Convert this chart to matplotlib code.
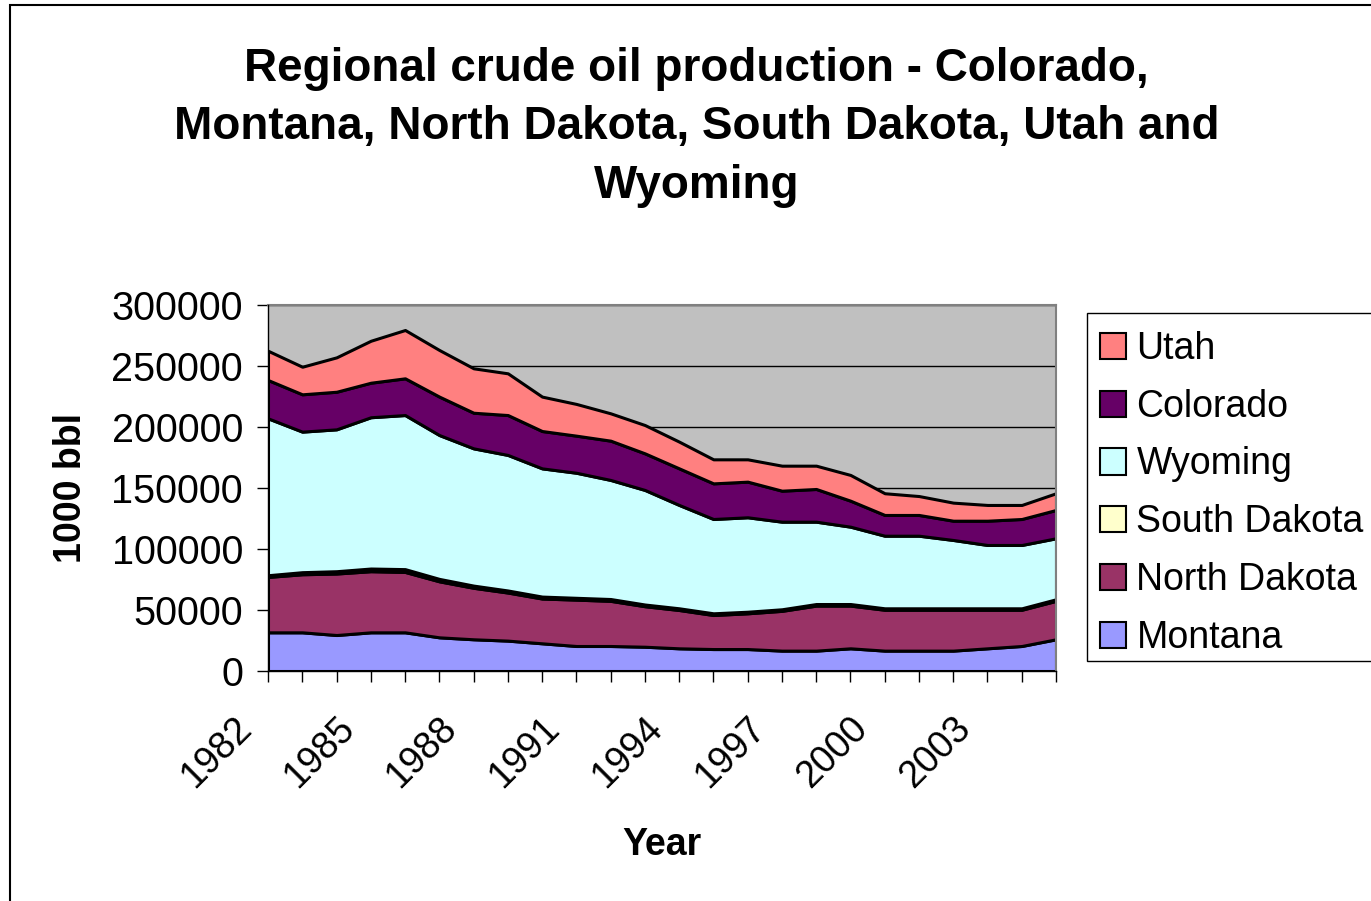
import matplotlib
matplotlib.use("Agg")
import matplotlib.pyplot as plt
from matplotlib.patches import Rectangle, Patch
from matplotlib.transforms import ScaledTranslation

plt.rcParams["font.family"] = ["Liberation Sans", "DejaVu Sans"]

years = list(range(1982, 2006))

# thousand barrels per year
montana = [31700, 31700, 29500, 31700, 31700, 27600, 26000, 24900, 22700, 20500, 20500, 19900,
           18600, 18000, 18000, 16700, 16700, 18600, 16700, 16700, 16700, 18600, 20500, 26000]
north_dakota = [45400, 47600, 50400, 50100, 49500, 45900, 42200, 39400, 36700, 38000, 37000, 33200,
                31400, 27900, 29300, 32600, 36900, 35000, 33500, 33500, 33500, 31600, 29700, 31500]
south_dakota = [1400, 1700, 1900, 2200, 2300, 2000, 1800, 1700, 1600, 1500, 1500, 1400,
                1400, 1400, 1300, 1300, 1300, 1300, 1200, 1200, 1200, 1200, 1200, 1300]
wyoming = [128600, 115200, 116300, 124000, 126300, 117900, 112500, 111100, 105100, 102500, 97600, 93900,
           84700, 77300, 77400, 71800, 67500, 63400, 59500, 59500, 56000, 51900, 51900, 50000]
colorado = [31400, 30600, 30800, 28300, 30100, 31500, 29200, 32700, 30600, 30400, 32200, 30000,
            30000, 29200, 29200, 25400, 26800, 21300, 17000, 17000, 15800, 19900, 21300, 23200]
utah = [24000, 22600, 28200, 34400, 39600, 38200, 36400, 34200, 28200, 26000, 22400, 23200,
        21900, 19700, 18300, 20500, 19100, 21100, 17800, 15500, 14800, 12900, 11500, 13700]

series_names = ["Montana", "North Dakota", "South Dakota", "Wyoming", "Colorado", "Utah"]
series_colors = ["#9999FF", "#993366", "#FFFFCC", "#CCFFFF", "#660066", "#FF8080"]

W, H = 1371, 901
fig = plt.figure(figsize=(W / 100, H / 100), dpi=100)
ax = fig.add_axes([268 / W, 1 - 671 / H, (1056 - 268) / W, (671 - 305) / H])

ax.set_facecolor("#C0C0C0")
ax.yaxis.grid(True, color="black", linewidth=1)
ax.set_axisbelow(True)

ax.stackplot(years, montana, north_dakota, south_dakota, wyoming, colorado, utah,
             colors=series_colors, edgecolor="black", linewidth=2.2, zorder=2)

ax.set_xlim(1982, 2005)
ax.set_ylim(0, 300000)
ax.tick_params(axis="both", direction="out", length=8, width=1, color="black")
ax.tick_params(axis="x", pad=6)
ax.tick_params(axis="y", pad=10)
ax.set_yticks(range(0, 300001, 50000))
ax.set_yticklabels([str(v) for v in range(0, 300001, 50000)], fontsize=28.5)
ax.set_xticks(years)
ax.set_xticklabels([str(y) if (y - 1982) % 3 == 0 else "" for y in years],
                   fontsize=27, rotation=45, ha="right", va="top", rotation_mode="anchor")
shift = ScaledTranslation(-0.35, -0.20, fig.dpi_scale_trans)
for lbl in ax.get_xticklabels():
    lbl.set_transform(lbl.get_transform() + shift)

for side in ["top", "right"]:
    ax.spines[side].set_color("#808080")
    ax.spines[side].set_linewidth(1.5)
for side in ["left", "bottom"]:
    ax.spines[side].set_color("black")
    ax.spines[side].set_linewidth(1)
    ax.spines[side].set_zorder(5)

ax.set_xlabel("Year", fontsize=27, fontweight="bold", labelpad=23)
ax.set_ylabel("1000 bbl", fontsize=27, fontweight="bold", labelpad=16)

fig.text(0.508, 1 - 47 / H,
         "Regional crude oil production - Colorado,\nMontana, North Dakota, South Dakota, Utah and\nWyoming",
         ha="center", va="top", fontsize=33, fontweight="bold", linespacing=1.42)

# legend box drawn by hand, it runs off the right edge
fig.patches.append(Rectangle((1087 / W, 1 - 661 / H), 0.3, (661 - 313) / H, transform=fig.transFigure,
                             facecolor="white", edgecolor="black", linewidth=1))
handles = [Patch(facecolor=c, edgecolor="black", linewidth=1.5, label=n)
           for n, c in zip(series_names, series_colors)][::-1]
leg = fig.legend(handles=handles, loc="upper left", bbox_to_anchor=(1100 / W, 1 - 331 / H),
                 fontsize=27, frameon=False, borderaxespad=0, borderpad=0,
                 handlelength=0.7, handleheight=0.7, handletextpad=0.27,
                 labelspacing=0.58)

fig.patches.append(Rectangle((10 / W, -0.1), 1.2, 1.1 - 5 / H, transform=fig.transFigure,
                             fill=False, edgecolor="black", linewidth=1.5))

fig.savefig("out.png", dpi=100)
